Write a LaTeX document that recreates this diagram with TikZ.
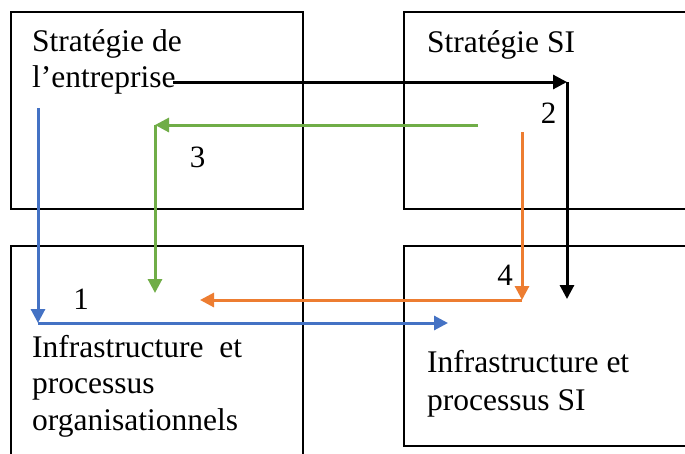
\documentclass[tikz,border=0pt]{standalone}
\usepackage{fontspec}
\setmainfont{Liberation Serif}
\usetikzlibrary{arrows.meta}
\definecolor{flowblue}{HTML}{4472C4}
\definecolor{floworange}{HTML}{ED7D31}
\definecolor{flowgreen}{HTML}{70AD47}
\tikzset{
  panel/.style={draw=black, line width=1.6pt},
  % anchored on the baseline of the last line
  caption/.style={anchor=base west, inner sep=0pt, align=left,
    font=\fontsize{31.5}{36.5}\selectfont},
  num/.style={inner sep=0pt, font=\fontsize{31}{36}\selectfont},
  flow/.style={line width=3pt, -{Triangle[length=14pt,width=14pt]}},
}
\begin{document}
\begin{tikzpicture}[x=1pt,y=-1pt]
  \useasboundingbox (0,0) rectangle (685,453);
  \clip (0,0) rectangle (685,453);
  \fill[white] (0,0) rectangle (685,453);

  % four quadrants
  \draw[panel] (11,12) rectangle (303,209);
  \draw[panel] (404,12) rectangle (700,209);
  \draw[panel] (11,246) rectangle (303,470);
  \draw[panel] (404,246) rectangle (700,446);

  \node[caption] (se) at (32,87.7) {Stratégie de\\l’entreprise};
  \node[caption] (ssi) at (427,52.3) {Stratégie SI};
  \node[caption] (ipo) at (32,430) {Infrastructure\ \ et\\processus\\organisationnels};
  \node[caption, font=\fontsize{31.5}{38}\selectfont] (ipsi) at (427,410) {Infrastructure et\\processus SI};

  % arrow end points
  \coordinate (b0) at (173,82);
  \coordinate (b1) at (567,82);
  \coordinate (b2) at (567,299);
  \coordinate (g0) at (478,125);
  \coordinate (g1) at (155,125);
  \coordinate (g2) at (155,293);
  \coordinate (o0) at (522,132);
  \coordinate (o1) at (522,300);
  \coordinate (o2) at (200,300);
  \coordinate (l0) at (38,108);
  \coordinate (l1) at (38,323);
  \coordinate (l2) at (448,323);

  % 2: black
  \draw[flow, black] (b0) -- (b1);
  \draw[flow, black] (b1) -- (b2);
  % 3: green
  \draw[flow, flowgreen] (g0) -- (g1);
  \draw[flow, flowgreen] (g1) -- (g2);
  % 4: orange
  \draw[flow, floworange] (o0) -- (o1);
  \draw[flow, floworange] (o1) -- (o2);
  % 1: blue
  \draw[flow, flowblue] (l0) -- (l1);
  \draw[flow, flowblue] (l1) -- (l2);

  \node[num] (n1) at (81,299) {1};
  \node[num] (n2) at (548.5,113) {2};
  \node[num] (n3) at (197.5,157.5) {3};
  \node[num] (n4) at (505,275) {4};
\end{tikzpicture}
\end{document}
